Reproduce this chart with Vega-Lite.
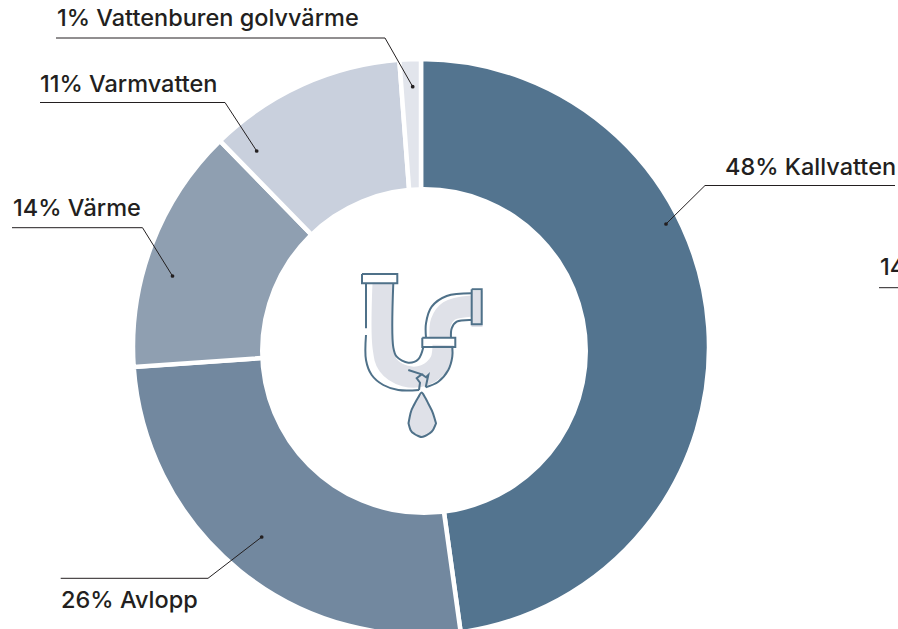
{
"$schema":"https://vega.github.io/schema/vega-lite/v6.json",
"width":898,"height":629,"padding":0,"autosize":{"type":"none"},
"background":"white",
"config":{"view":{"stroke":null}},
"datasets":{
"shares":[
{"label":"Kallvatten","share":47.8,"rank":1},
{"label":"Avlopp","share":26.1,"rank":2},
{"label":"Värme","share":13.8,"rank":3},
{"label":"Varmvatten","share":11.1,"rank":4},
{"label":"Vattenburen golvvärme","share":1.2,"rank":5}],
"leaders":[
{"k":"a","o":1,"x":666,"y":224},{"k":"a","o":2,"x":705,"y":185.5},{"k":"a","o":3,"x":895,"y":185.5},
{"k":"b","o":1,"x":261.7,"y":537},{"k":"b","o":2,"x":208,"y":578.3},{"k":"b","o":3,"x":60.7,"y":578.3},
{"k":"c","o":1,"x":172.5,"y":276},{"k":"c","o":2,"x":142.5,"y":227.7},{"k":"c","o":3,"x":12,"y":227.7},
{"k":"d","o":1,"x":256.7,"y":151},{"k":"d","o":2,"x":225,"y":102.5},{"k":"d","o":3,"x":40,"y":102.5},
{"k":"e","o":1,"x":412.7,"y":86.7},{"k":"e","o":2,"x":385,"y":38},{"k":"e","o":3,"x":56,"y":38},
{"k":"f","o":1,"x":879,"y":287.7},{"k":"f","o":2,"x":898,"y":287.7}],
"labels":[
{"t":"48% Kallvatten","x":725,"y":175},
{"t":"26% Avlopp","x":61,"y":608},
{"t":"14% Värme","x":13,"y":215.7},
{"t":"11% Varmvatten","x":40,"y":91.7},
{"t":"1% Vattenburen golvvärme","x":57,"y":26},
{"t":"14","x":880,"y":275}],
"hole":[{"x":424,"y":351}],
"pipeFill":[
{"k":"l","o":1,"x":383,"y":283},{"k":"l","o":2,"x":383,"y":347},{"k":"l","o":3,"x":388,"y":365},{"k":"l","o":4,"x":405,"y":376},{"k":"l","o":5,"x":425,"y":375},{"k":"l","o":6,"x":440,"y":362},{"k":"l","o":7,"x":443,"y":345},
{"k":"u","o":1,"x":440,"y":338},{"k":"u","o":2,"x":441,"y":322},{"k":"u","o":3,"x":449,"y":311},{"k":"u","o":4,"x":472,"y":306}],
"flangeFill":[{"x":477,"y":291},{"x":477,"y":327}],
"pipeStraight":[
{"k":"tf","o":1,"x":362,"y":274},{"k":"tf","o":2,"x":397.3,"y":274},{"k":"tf","o":3,"x":397.3,"y":283.3},{"k":"tf","o":4,"x":362,"y":283.3},{"k":"tf","o":5,"x":362,"y":274},
{"k":"rf","o":1,"x":471.7,"y":289.3},{"k":"rf","o":2,"x":481.7,"y":289.3},{"k":"rf","o":3,"x":481.7,"y":324.3},{"k":"rf","o":4,"x":471.7,"y":324.3},{"k":"rf","o":5,"x":471.7,"y":289.3},
{"k":"co","o":1,"x":422.3,"y":337.7},{"k":"co","o":2,"x":455.3,"y":337.7},{"k":"co","o":3,"x":455.3,"y":347},{"k":"co","o":4,"x":422.3,"y":347},{"k":"co","o":5,"x":422.3,"y":337.7},
{"k":"cl","o":1,"x":408.3,"y":370},{"k":"cl","o":2,"x":421.7,"y":374.3},{"k":"cl","o":3,"x":416.7,"y":378.3},{"k":"cl","o":4,"x":420,"y":382.7},{"k":"cl","o":5,"x":419,"y":390},
{"k":"cr","o":1,"x":421.7,"y":374.3},{"k":"cr","o":2,"x":426,"y":377.3},{"k":"cr","o":3,"x":428.3,"y":375},{"k":"cr","o":4,"x":425.7,"y":387.3},
{"k":"v","o":1,"x":366,"y":283.3},{"k":"v","o":2,"x":366,"y":328.3}],
"pipeCurves":[
{"k":"lo","o":1,"x":366,"y":335},{"k":"lo","o":2,"x":366,"y":360},{"k":"lo","o":3,"x":371.7,"y":375},{"k":"lo","o":4,"x":383.3,"y":385},{"k":"lo","o":5,"x":398.3,"y":390},{"k":"lo","o":6,"x":419,"y":390},
{"k":"li","o":1,"x":393.3,"y":283.3},{"k":"li","o":2,"x":393.3,"y":347.3},{"k":"li","o":3,"x":396.7,"y":356.7},{"k":"li","o":4,"x":408.3,"y":362.7},{"k":"li","o":5,"x":418.3,"y":359.3},{"k":"li","o":6,"x":423.3,"y":347.3},
{"k":"ro","o":1,"x":425.7,"y":387.3},{"k":"ro","o":2,"x":438.3,"y":381.7},{"k":"ro","o":3,"x":448.3,"y":370},{"k":"ro","o":4,"x":452.3,"y":356.7},{"k":"ro","o":5,"x":452.3,"y":347.3},
{"k":"uo","o":1,"x":426,"y":337.7},{"k":"uo","o":2,"x":426,"y":323.3},{"k":"uo","o":3,"x":431.7,"y":306.7},{"k":"uo","o":4,"x":446.7,"y":296},{"k":"uo","o":5,"x":471.7,"y":293.3},
{"k":"ui","o":1,"x":451,"y":337.7},{"k":"ui","o":2,"x":451.7,"y":328.3},{"k":"ui","o":3,"x":456.7,"y":321.7},{"k":"ui","o":4,"x":471.7,"y":320}],
"drop":[
{"x":408.5,"y":423.3,"y2":423.3},{"x":410.5,"y":413.3,"y2":430},{"x":414.5,"y":404,"y2":434},{"x":418.3,"y":397.3,"y2":436},{"x":421.5,"y":392.5,"y2":437},{"x":425,"y":397.3,"y2":436},{"x":428.5,"y":404,"y2":434},{"x":433,"y":413.3,"y2":430},{"x":436,"y":423.3,"y2":423.3}]
},
"layer":[
{"data":{"name":"shares"},
"mark":{"type":"arc","radius":288,"innerRadius":100,"stroke":"white","strokeWidth":4.5},
"encoding":{
"x":{"value":421},
"y":{"value":347},
"theta":{"field":"share","type":"quantitative","stack":true,"scale":{"domain":[0,100],"range":[0,6.28318530718]}},
"order":{"field":"rank","type":"ordinal"},
"color":{"field":"label","type":"nominal","legend":null,"scale":{"domain":["Kallvatten","Avlopp","Värme","Varmvatten","Vattenburen golvvärme"],"range":["#53748f","#72889f","#8f9fb1","#c9d0dd","#e2e5ec"]}}
}},
{"layer":[
{"data":{"name":"hole"},"mark":{"type":"point","shape":"circle","filled":true,"fill":"white","opacity":1,"size":107584,"stroke":null},"encoding":{}},
{"data":{"name":"pipeFill"},"mark":{"type":"line","stroke":"#dfe1e8","strokeWidth":21,"interpolate":"catmull-rom","strokeCap":"butt"},"encoding":{"detail":{"field":"k"},"order":{"field":"o","type":"quantitative"}}},
{"data":{"name":"flangeFill"},"mark":{"type":"line","stroke":"#dfe1e8","strokeWidth":11,"strokeCap":"butt"},"encoding":{}},
{"data":{"name":"drop"},"mark":{"type":"area","fill":"#dfe1e8","stroke":"#4f7189","strokeWidth":2,"interpolate":"monotone"},"encoding":{"y2":{"field":"y2"}}},
{"data":{"name":"pipeStraight"},"mark":{"type":"line","stroke":"#4f7189","strokeWidth":2},"encoding":{"detail":{"field":"k"},"order":{"field":"o","type":"quantitative"}}},
{"data":{"name":"pipeCurves"},"mark":{"type":"line","stroke":"#4f7189","strokeWidth":2,"interpolate":"catmull-rom"},"encoding":{"detail":{"field":"k"},"order":{"field":"o","type":"quantitative"}}},
{"data":{"name":"leaders"},"mark":{"type":"line","stroke":"#231f20","strokeWidth":1},"encoding":{"detail":{"field":"k"},"order":{"field":"o","type":"quantitative"}}},
{"data":{"name":"leaders"},"transform":[{"filter":"datum.o==1 && datum.k!='f'"}],"mark":{"type":"point","filled":true,"fill":"#231f20","opacity":1,"size":14,"stroke":null},"encoding":{}},
{"data":{"name":"labels"},"mark":{"type":"text","align":"left","baseline":"alphabetic","font":"Inter","fontSize":23.5,"fontWeight":500,"fill":"#231f20"},"encoding":{"text":{"field":"t"}}}
],
"encoding":{
"x":{"field":"x","type":"quantitative","scale":{"domain":[0,898],"nice":false,"zero":false},"axis":null},
"y":{"field":"y","type":"quantitative","scale":{"domain":[0,629],"reverse":true,"nice":false,"zero":false},"axis":null}
}}
]
}
